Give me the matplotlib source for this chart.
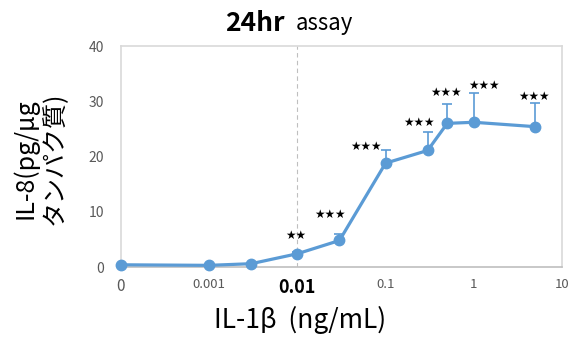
import numpy as np
import matplotlib.pyplot as plt

plt.rcParams['font.family'] = ['Noto Sans CJK JP', 'DejaVu Sans']

# concentrations (ng/mL); 0 is drawn at 1e-4 on the log axis
conc = [0, 0.001, 0.003, 0.01, 0.03, 0.1, 0.3, 0.5, 1, 5]
il8 = [0.4, 0.3, 0.6, 2.4, 4.8, 18.8, 21.1, 26.0, 26.2, 25.4]
err = [0.1, 0.1, 0.2, 0.3, 1.2, 2.3, 3.3, 3.5, 5.3, 4.3]
sig = ['', '', '', '**', '***', '***', '***', '***', '***', '***']

tick_pos = [1e-4, 1e-3, 1e-2, 1e-1, 1, 10]
tick_lab = ['0', '0.001', '0.01', '0.1', '1', '10']

blue = '#5B9BD5'
grey = '#595959'

x = np.array([c if c > 0 else 1e-4 for c in conc])

fig = plt.figure(figsize=(5.72, 3.41), dpi=100)
ax = fig.add_axes([0.2115, 0.217, 0.771, 0.648])
ax.set_xscale('log')
ax.set_xlim(1e-4, 10)
ax.set_ylim(0, 40)

ax.axvline(0.01, color='#BFBFBF', lw=0.8, ls=(0, (4, 3)), zorder=1)

ax.errorbar(x, il8, yerr=[np.zeros(len(err)), err], fmt='none', ecolor=blue,
            elinewidth=1.2, capsize=3.5, capthick=1.2, zorder=2)
ax.plot(x, il8, color=blue, lw=2.3, marker='o', ms=7.5, zorder=3, clip_on=False)

# star label offsets in pixels (dx, dy) from top of error bar
offs = [(0, 0), (0, 0), (0, 0), (-2, 17), (-9, 19), (-20, 4), (-9, 10), (-1, 12), (10, 8), (-1, 6)]
for xi, yi, ei, s, (dx, dy) in zip(x, il8, err, sig, offs):
    if s:
        ax.annotate(s.replace('*', '★'), (xi, yi + ei), xytext=(dx * 0.72, dy * 0.72),
                    textcoords='offset points', ha='center', va='center',
                    fontsize=8.5, color='black', family='DejaVu Sans')

ax.set_yticks([0, 10, 20, 30, 40])
ax.tick_params(axis='y', length=0, labelsize=10, labelcolor=grey, pad=12)
ax.set_xticks(tick_pos)
ax.set_xticklabels(tick_lab)
ax.minorticks_off()
ax.tick_params(axis='x', length=0, pad=8, labelcolor=grey, labelsize=9.5)
lbls = ax.get_xticklabels()
lbls[0].set_fontsize(11)
lbls[2].set_fontsize(13)
lbls[2].set_fontweight('bold')
lbls[2].set_color('black')

for sp in ax.spines.values():
    sp.set_color('#D9D9D9')
    sp.set_linewidth(1.2)
ax.spines['bottom'].set_color('#BFBFBF')

fig.text(0.497, 0.93, '24hr', fontsize=19, fontweight='bold', ha='right', va='center')
fig.text(0.517, 0.93, 'assay', fontsize=16, ha='left', va='center')

fig.text(0.525, 0.062, 'IL-1β  (ng/mL)', fontsize=19, ha='center', va='center')
fig.text(0.07, 0.535, 'IL-8(pg/μg\nタンパク質)', rotation=90, fontsize=18,
         ha='center', va='center', linespacing=1.15)

fig.savefig('out.png', dpi=100)
